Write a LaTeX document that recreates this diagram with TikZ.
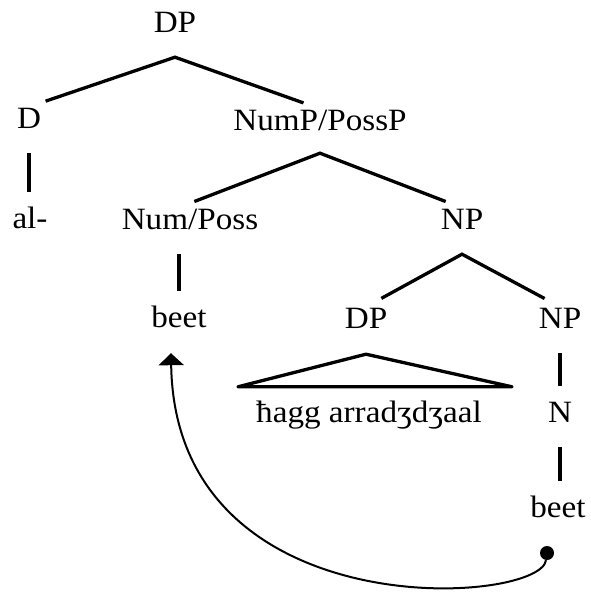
\documentclass[tikz,border=0pt]{standalone}
\usepackage{fontspec}
\setmainfont{Liberation Serif}[FakeStretch=1.07]
\usepackage{tikz}
\usetikzlibrary{positioning, arrows.meta, calc}

\begin{document}
\begin{tikzpicture}[x=1pt, y=1pt,
    lbl/.style={anchor=base, inner sep=0pt, text height=21pt, text depth=7pt,
                font=\fontsize{31}{36}\selectfont},
    branch/.style={line width=3.3pt, shorten <=17.5pt, shorten >=17.5pt},
    stem/.style={line width=3.3pt, shorten <=18pt, shorten >=15pt},
    move/.style={line width=2pt, -{Triangle[length=12pt, width=25pt]}},
  ]
  \useasboundingbox (0,0) rectangle (590,-594);
  % labels
  \node[lbl] (dptop)  at (175,-33)  {DP};
  \node[lbl] (d)      at (29,-128)  {D};
  \node[lbl] (nump)   at (320,-130) {NumP/PossP};
  \node[lbl] (al)     at (30,-228)  {al-};
  \node[lbl] (num)    at (190,-229) {Num/Poss};
  \node[lbl] (npmid)  at (462,-229) {NP};
  \node[lbl] (beetl)  at (179,-327) {beet};
  \node[lbl] (dpposs) at (366,-328) {DP};
  \node[lbl] (nplow)  at (560,-328) {NP};
  \node[lbl] (hagg)   at (369,-422) {ħagg arradʒdʒaal};
  \node[lbl] (n)      at (560,-422) {N};
  \node[lbl] (beetr)  at (558,-517) {beet};
  \node[circle, fill, inner sep=0pt, minimum size=14pt] (trace) at (547,-553) {};

  % branches
  \draw[branch] (d.north) -- ([yshift=-17pt]dptop.south) -- (nump.north);
  \draw[branch] ([xshift=-12pt]num.north) -- ([yshift=-16pt]nump.south) -- (npmid.north);
  \draw[branch] (dpposs.north) -- ([yshift=-18pt]npmid.south) -- (nplow.north);
  \draw[stem] (d.south) -- (al.north -| d.south);
  \draw[stem] (num.south -| beetl.north) -- (beetl.north);
  \draw[stem] (nplow.south) -- (n.north);
  \draw[stem] (n.south) -- (beetr.north -| n.south);

  % triangle
  \draw[line width=3.3pt, line join=round] ([yshift=-19pt]dpposs.south)
    -- ([shift={(143,14)}]hagg.north) -- ([shift={(-131,14)}]hagg.north) -- cycle;

  % movement
  \draw[move] (trace) .. controls (540,-605) and (175,-630) .. ([shift={(-8,-19)}]beetl.south);
\end{tikzpicture}
\end{document}
